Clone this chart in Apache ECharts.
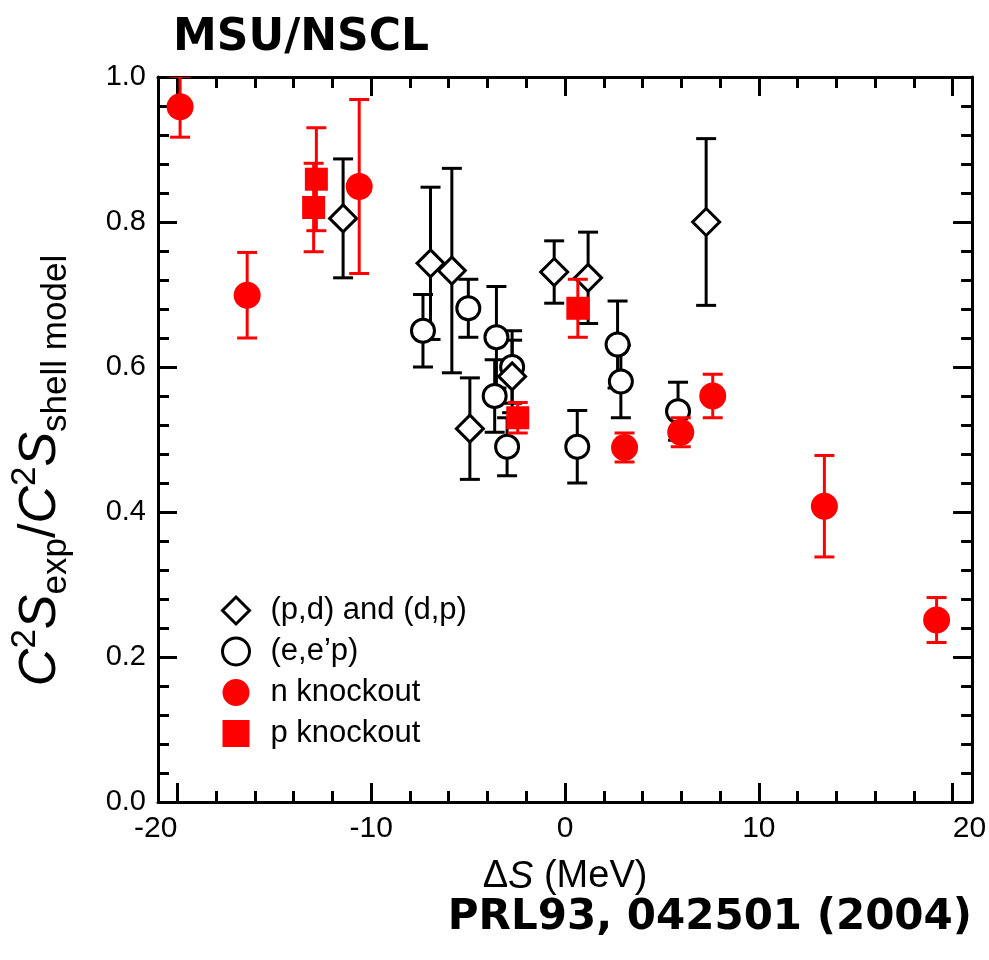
<!DOCTYPE html>
<html>
<head>
<meta charset="utf-8">
<script src="https://cdn.jsdelivr.net/npm/echarts@6/dist/echarts.min.js"></script>
<style>
    html, body { margin: 0; padding: 0; background: #fff; }
    #main { width: 989px; height: 960px; }
</style>
</head>
<body>
<div id="main"></div>
<script>
// (p,d) and (d,p)
var pdX = [-11.45, -6.94, -5.84, -4.91, -2.73, -0.56, 1.19, 7.28];
var pdY = [0.805, 0.743, 0.733, 0.515, 0.587, 0.731, 0.723, 0.800];
var pdErr = [0.082, 0.105, 0.141, 0.070, 0.050, 0.043, 0.063, 0.115];

// (e,e'p)
var eepX = [-7.33, -4.99, -3.54, -3.63, -2.99, -2.73, 0.63, 2.71, 2.88, 5.83];
var eepY = [0.650, 0.681, 0.641, 0.560, 0.490, 0.600, 0.490, 0.631, 0.580, 0.539];
var eepErr = [0.050, 0.040, 0.070, 0.050, 0.040, 0.050, 0.050, 0.060, 0.050, 0.040];

// n knockout
var nX = [-19.86, -16.40, -10.62, 3.07, 5.97, 7.62, 13.38, 19.17];
var nY = [0.959, 0.699, 0.849, 0.489, 0.510, 0.560, 0.408, 0.251];
var nErr = [0.042, 0.059, 0.120, 0.020, 0.020, 0.030, 0.070, 0.031];

// p knockout
var pX = [-12.83, -12.97, 0.66, -2.44];
var pY = [0.859, 0.820, 0.681, 0.530];
var pErr = [0.071, 0.061, 0.040, 0.021];

// ticks
var xMajor = [-20, -10, 0, 10, 20];
var xMinor = [-18, -16, -14, -12, -8, -6, -4, -2, 2, 4, 6, 8, 12, 14, 16, 18];

var font = 'Liberation Sans';

function points(xs, ys) {
    return xs.map(function(x, i) { return [x, ys[i]]; });
}
function bars(xs, ys, es) {
    return xs.map(function(x, i) { return [x, ys[i] - es[i], ys[i] + es[i]]; });
}

// 误差棒
function errBar(color) {
    return function(params, api) {
        var x = api.value(0);
        var lo = api.coord([x, api.value(1)]);
        var hi = api.coord([x, api.value(2)]);
        var w = 10;
        var st = { stroke: color, lineWidth: 3 };
        return {
            type: 'group',
            children: [
                { type: 'line', shape: { x1: hi[0], y1: hi[1], x2: lo[0], y2: lo[1] }, style: st },
                { type: 'line', shape: { x1: hi[0] - w, y1: hi[1], x2: hi[0] + w, y2: hi[1] }, style: st },
                { type: 'line', shape: { x1: lo[0] - w, y1: lo[1], x2: lo[0] + w, y2: lo[1] }, style: st }
            ]
        };
    };
}

function xAxisItem(pos, ticks, len, main) {
    return {
        type: 'value', position: pos, min: -21, max: 21,
        splitLine: { show: false },
        axisLine: { show: main, onZero: false, lineStyle: { color: '#000', width: 3 } },
        axisTick: { inside: true, length: len, customValues: ticks, lineStyle: { color: '#000', width: 3 } },
        axisLabel: { show: false }
    };
}

function yAxisItem(pos) {
    return {
        type: 'value', position: pos, min: 0, max: 1, interval: 0.2,
        splitLine: { show: false },
        axisLine: { onZero: false, lineStyle: { color: '#000', width: 3 } },
        axisTick: { inside: true, length: 19, lineStyle: { color: '#000', width: 3 } },
        minorTick: { show: true, splitNumber: 5, length: 11, lineStyle: { color: '#000', width: 3 } },
        axisLabel: { show: false }
    };
}

var xBottom = xAxisItem('bottom', xMajor, 19, true);
xBottom.axisLabel = {
    show: true, customValues: xMajor, fontSize: 30, fontFamily: font, color: '#000', margin: 12,
    alignMinLabel: 'right', alignMaxLabel: 'left'
};
xBottom.name = '{n|Δ}{it|S}{n| (MeV)}';
xBottom.nameLocation = 'middle';
xBottom.nameGap = 56;
xBottom.nameTextStyle = {
    rich: {
        n: { fontSize: 38, fontFamily: font, color: '#000' },
        it: { fontSize: 38, fontFamily: font, fontStyle: 'italic', color: '#000' }
    }
};

var yLeft = yAxisItem('left');
yLeft.axisLabel = {
    show: true, fontSize: 29, fontFamily: font, color: '#000', margin: 12,
    formatter: function(v) { return v.toFixed(1); }
};
yLeft.name = '{it|C}{sup|2}{it|S}{sub|exp}{n|/}{it|C}{sup|2}{it|S}{sub|shell model}';
yLeft.nameLocation = 'middle';
yLeft.nameGap = 84;
yLeft.nameTextStyle = {
    padding: [0, 62, 0, 0],
    rich: {
        it: { fontSize: 52, fontFamily: font, fontStyle: 'italic', color: '#000', lineHeight: 66 },
        n: { fontSize: 52, fontFamily: font, color: '#000', lineHeight: 66 },
        sup: { fontSize: 35, fontFamily: font, color: '#000', lineHeight: 34, verticalAlign: 'top' },
        sub: { fontSize: 35, fontFamily: font, color: '#000', lineHeight: 34, verticalAlign: 'bottom' }
    }
};

var openStyle = { color: '#fff', borderColor: '#000', borderWidth: 3, opacity: 1 };
var redStyle = { color: '#f00', opacity: 1 };

var myChart = echarts.init(document.getElementById('main'));
var option = {
    backgroundColor: '#fff',
    animation: false,
    title: [{
        text: 'MSU/NSCL', left: 168, top: 12,
        textStyle: { fontFamily: 'DejaVu Sans', fontWeight: 'bold', fontSize: 44, color: '#000' }
    }, {
        text: 'PRL93, 042501 (2004)', right: 12, top: 892,
        textStyle: { fontFamily: 'DejaVu Sans', fontWeight: 'bold', fontSize: 42, color: '#000' }
    }],
    grid: { left: 155, right: 12, top: 77, bottom: 158 },
    legend: {
        orient: 'vertical', left: 216, top: 590,
        itemWidth: 27, itemHeight: 27, itemGap: 10,
        textStyle: { fontSize: 31, fontFamily: font, color: '#000', padding: [0, 0, 0, 16] },
        data: [
            { name: '(p,d) and (d,p)', itemStyle: openStyle },
            { name: '(e,e’p)', itemStyle: openStyle },
            { name: 'n knockout', itemStyle: redStyle },
            { name: 'p knockout', itemStyle: redStyle }
        ]
    },
    xAxis: [
        xBottom,
        xAxisItem('bottom', xMinor, 11, false),
        xAxisItem('top', xMajor, 19, true),
        xAxisItem('top', xMinor, 11, false)
    ],
    yAxis: [yLeft, yAxisItem('right')],
    series: [
        { type: 'custom', name: 'pdErr', renderItem: errBar('#000'), data: bars(pdX, pdY, pdErr), clip: true, z: 2 },
        { type: 'custom', name: 'eepErr', renderItem: errBar('#000'), data: bars(eepX, eepY, eepErr), clip: true, z: 2 },
        { type: 'scatter', name: '(e,e’p)', symbol: 'circle', symbolSize: 23, itemStyle: openStyle, data: points(eepX, eepY), z: 3 },
        { type: 'scatter', name: '(p,d) and (d,p)', symbol: 'diamond', symbolSize: 27, itemStyle: openStyle, data: points(pdX, pdY), z: 3 },
        { type: 'custom', name: 'nErr', renderItem: errBar('#f00'), data: bars(nX, nY, nErr), clip: true, z: 4 },
        { type: 'custom', name: 'pErr', renderItem: errBar('#f00'), data: bars(pX, pY, pErr), clip: true, z: 4 },
        { type: 'scatter', name: 'n knockout', symbol: 'circle', symbolSize: 27, itemStyle: redStyle, data: points(nX, nY), z: 5 },
        { type: 'scatter', name: 'p knockout', symbol: 'rect', symbolSize: 23, itemStyle: redStyle, data: points(pX, pY), z: 5 }
    ]
};
myChart.setOption(option);
</script>
</body>
</html>
